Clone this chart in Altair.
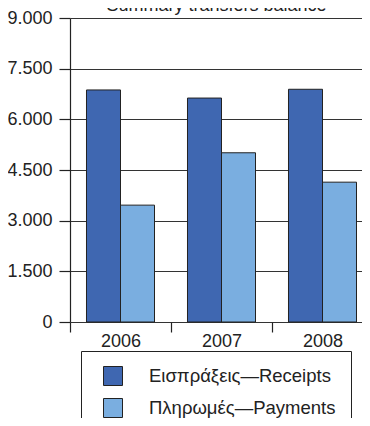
import altair as alt
import pandas as pd

years = ["2006", "2007", "2008"]
series = ["Εισπράξεις—Receipts", "Πληρωμές—Payments"]
receipts = [6870, 6630, 6890]
payments = [3460, 5010, 4140]
colors = ["#3f67b1", "#7aaee0"]
y_ticks = [0, 1500, 3000, 4500, 6000, 7500, 9000]
title_text = "Summary transfers balance"

rows = []
for i, yr in enumerate(years):
    rows.append({"year": yr, "series": series[0], "value": receipts[i]})
    rows.append({"year": yr, "series": series[1], "value": payments[i]})
df = pd.DataFrame(rows)

FONT = "Liberation Sans"
INK = "#222222"

chart = alt.Chart(df).mark_bar(stroke=INK, strokeWidth=1).encode(
    x=alt.X(
        "year:N",
        sort=years,
        scale=alt.Scale(paddingInner=0, paddingOuter=0),
        axis=alt.Axis(
            title=None, labelAngle=0, domain=False, tickBand="extent",
            tickSize=10, tickColor=INK, tickWidth=1.2, labelFontSize=18,
            labelColor=INK, labelFont=FONT, labelPadding=0, grid=False,
        ),
    ),
    xOffset=alt.XOffset(
        "series:N", sort=series,
        scale=alt.Scale(paddingInner=0, paddingOuter=0.485),
    ),
    y=alt.Y(
        "value:Q",
        scale=alt.Scale(domain=[0, 9000], nice=False),
        axis=alt.Axis(
            title=None, values=y_ticks,
            labelExpr="replace(format(datum.value, ','), ',', '.')",
            tickSize=11, tickColor=INK, tickWidth=1.2, domainColor=INK,
            domainWidth=1.2, gridColor="#333333", gridWidth=1.2,
            labelFontSize=18, labelColor=INK, labelFont=FONT, labelPadding=7,
        ),
    ),
    fill=alt.Fill(
        "series:N", sort=series,
        scale=alt.Scale(domain=series, range=colors),
        legend=alt.Legend(
            title=None, orient="none", legendX=11, legendY=333,
            strokeColor=INK, fillColor="white", padding=15,
            symbolType="square", symbolSize=361, symbolOffset=7,
            symbolStrokeColor=INK, symbolStrokeWidth=1,
            labelFontSize=18.5, labelFont=FONT, labelColor=INK,
            labelOffset=26, rowPadding=8, labelLimit=400,
        ),
    ),
).properties(
    width=303,
    height=304,
    title=alt.TitleParams(
        title_text, fontSize=18, fontWeight="normal", font=FONT,
        color=INK, anchor="middle", offset=0, baseline="alphabetic",
        dx=-5, dy=20,
    ),
    autosize=alt.AutoSizeParams(type="none"),
    padding={"left": 62, "top": 10, "right": -11, "bottom": 96},
).configure_view(stroke=None)

chart.save("out.html", embed_options={"renderer": "svg", "actions": False})
